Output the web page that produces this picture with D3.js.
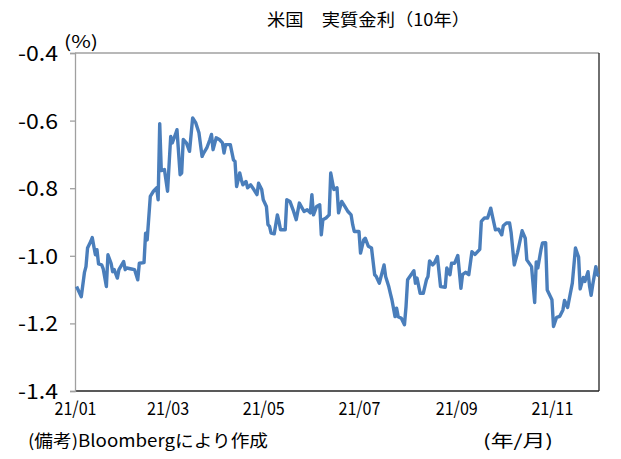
<!DOCTYPE html>
<html>
<head>
<meta charset="utf-8">
<script src="https://cdn.jsdelivr.net/npm/d3@7"></script>
<style>
  body { margin: 0; background: #fff; }
  text { font-family: "Noto Sans CJK JP", "Noto Sans", sans-serif; fill: #000; }
</style>
</head>
<body>
<script>
// chart data: 10y US real rate (%), 2021
const dates = [
  "01-02","01-05","01-07","01-08","01-09","01-11","01-12","01-13","01-14","01-15",
  "01-16","01-18","01-19","01-21","01-22","01-24","01-25","01-26","01-28","01-29",
  "02-01","02-02","02-03","02-06","02-08","02-10","02-11","02-14","02-15","02-16",
  "02-18","02-20","02-22","02-23","02-24","02-25","02-27","03-01","03-03","03-04",
  "03-06","03-07","03-09","03-10","03-11","03-13","03-15","03-17","03-19","03-21",
  "03-23","03-24","03-26","03-28","03-29","03-30","04-01","04-03","04-05","04-06",
  "04-07","04-10","04-12","04-13","04-14","04-16","04-17","04-18","04-20","04-21",
  "04-23","04-25","04-27","04-28","04-30","05-01","05-03","05-04","05-05","05-06",
  "05-08","05-10","05-11","05-12","05-15","05-16","05-18","05-20","05-22","05-24",
  "05-27","05-29","05-31","06-01","06-02","06-04","06-06","06-07","06-08","06-10",
  "06-12","06-13","06-15","06-17","06-18","06-20","06-22","06-24","06-26","06-27",
  "06-28","07-01","07-02","07-04","07-05","07-07","07-09","07-11","07-12","07-14",
  "07-17","07-18","07-20","07-21","07-22","07-24","07-25","07-26","07-28","07-30",
  "07-31","08-01","08-04","08-05","08-06","08-07","08-09","08-11","08-13","08-14",
  "08-15","08-17","08-18","08-20","08-22","08-25","08-26","08-28","08-29","08-31",
  "09-02","09-04","09-05","09-07","09-09","09-11","09-13","09-16","09-17","09-19",
  "09-21","09-23","09-24","09-26","09-28","09-30","10-01","10-03","10-05","10-06",
  "10-08","10-10","10-13","10-15","10-16","10-19","10-21","10-22","10-23","10-25",
  "10-26","10-28","10-29","11-01","11-02","11-04","11-06","11-08","11-09","11-11",
  "11-14","11-16","11-18","11-19","11-21","11-22","11-24","11-25","11-26","11-27",
  "11-29","11-30","12-01"
];
const values = [
  -1.091,-1.121,-1.050,-1.032,-0.977,-0.958,-0.946,-0.972,-0.997,-0.982,
  -1.024,-1.027,-1.039,-1.091,-0.997,-1.022,-1.047,-1.041,-1.066,-1.041,
  -1.017,-1.041,-1.036,-1.039,-1.041,-1.071,-1.022,-1.020,-0.933,-0.953,
  -0.824,-0.809,-0.799,-0.834,-0.609,-0.748,-0.745,-0.809,-0.647,-0.666,
  -0.641,-0.627,-0.760,-0.755,-0.656,-0.666,-0.691,-0.592,-0.607,-0.636,
  -0.706,-0.696,-0.681,-0.656,-0.641,-0.686,-0.651,-0.656,-0.666,-0.696,
  -0.671,-0.671,-0.716,-0.721,-0.795,-0.755,-0.775,-0.790,-0.780,-0.799,
  -0.790,-0.804,-0.819,-0.785,-0.804,-0.834,-0.854,-0.908,-0.913,-0.933,
  -0.935,-0.879,-0.898,-0.923,-0.923,-0.834,-0.839,-0.864,-0.893,-0.844,
  -0.869,-0.864,-0.873,-0.819,-0.879,-0.854,-0.849,-0.938,-0.893,-0.888,
  -0.879,-0.755,-0.804,-0.799,-0.873,-0.839,-0.854,-0.869,-0.879,-0.908,
  -0.928,-0.928,-0.992,-0.953,-0.948,-0.972,-0.977,-1.056,-1.061,-1.081,
  -1.027,-1.061,-1.091,-1.111,-1.130,-1.180,-1.155,-1.180,-1.185,-1.204,
  -1.150,-1.071,-1.051,-1.044,-1.081,-1.066,-1.111,-1.111,-1.071,-1.061,
  -1.015,-1.027,-1.022,-1.002,-1.091,-1.093,-1.036,-1.056,-1.022,-1.022,
  -0.999,-1.096,-1.056,-1.049,-1.056,-0.988,-0.996,-0.981,-0.898,-0.888,
  -0.888,-0.859,-0.881,-0.923,-0.921,-0.938,-0.911,-0.903,-0.903,-0.932,
  -1.027,-0.992,-0.926,-0.948,-1.012,-1.032,-1.138,-1.018,-1.036,-0.982,
  -0.962,-0.961,-1.101,-1.130,-1.209,-1.182,-1.179,-1.160,-1.132,-1.153,
  -1.081,-0.977,-1.004,-1.098,-1.064,-1.076,-1.047,-1.090,-1.117,-1.086,
  -1.032,-1.056,-1.059
];
const yTicks = [-1.4, -1.2, -1.0, -0.8, -0.6, -0.4];
const xTicks = ["2021-01-01","2021-03-01","2021-05-01","2021-07-01","2021-09-01","2021-11-01"];
const title = "米国　実質金利（10年）";

const W = 621, H = 459;
const margin = {top: 53, right: 22, bottom: 68, left: 75};
const parse = d3.timeParse("%Y-%m-%d");
const data = dates.map((d, i) => ({date: parse("2021-" + d), value: values[i]}));

const svg = d3.select("body").append("svg")
  .attr("width", W).attr("height", H);

const x = d3.scaleTime()
  .domain([parse("2021-01-01"), parse("2021-12-01")])
  .range([margin.left, W - margin.right]);
const y = d3.scaleLinear()
  .domain([-1.4, -0.4])
  .range([H - margin.bottom, margin.top]);

// plot frame: top/left grey, right/bottom dark
svg.append("line")
  .attr("x1", x.range()[0]).attr("x2", x.range()[1])
  .attr("y1", y(-0.4)).attr("y2", y(-0.4))
  .attr("stroke", "#a0a0a0").attr("stroke-width", 1.3);
svg.append("line")
  .attr("x1", x.range()[1]).attr("x2", x.range()[1])
  .attr("y1", y(-0.4)).attr("y2", y(-1.4))
  .attr("stroke", "#222").attr("stroke-width", 1.3);
svg.append("line")
  .attr("x1", x.range()[0]).attr("x2", x.range()[1])
  .attr("y1", y(-1.4)).attr("y2", y(-1.4))
  .attr("stroke", "#222").attr("stroke-width", 1.3);

// y axis
const yAxis = svg.append("g")
  .attr("transform", "translate(" + margin.left + ",0)")
  .call(d3.axisLeft(y).tickValues(yTicks).tickSize(5).tickPadding(12)
    .tickFormat(d => d.toFixed(1)));
yAxis.selectAll("path, line").attr("stroke", "#a0a0a0").attr("stroke-width", 1.3);
yAxis.selectAll("text")
  .style("font-size", "21px")
  .style("font-family", "'Noto Sans CJK JP', sans-serif")
  .attr("textLength", 40)
  .attr("lengthAdjust", "spacingAndGlyphs")
  .attr("dy", "0.36em");

// x axis labels
const xAxis = svg.append("g")
  .attr("transform", "translate(0," + (H - margin.bottom) + ")")
  .call(d3.axisBottom(x).tickValues(xTicks.map(parse)).tickSize(0).tickPadding(11)
    .tickFormat(d3.timeFormat("%y/%m")));
xAxis.select(".domain").remove();
xAxis.selectAll("text")
  .style("font-size", "18px")
  .style("font-family", "'Noto Sans CJK JP', sans-serif")
  .attr("textLength", 42)
  .attr("lengthAdjust", "spacingAndGlyphs");

// line
svg.append("path")
  .datum(data)
  .attr("fill", "none")
  .attr("stroke", "#4a7ebb")
  .attr("stroke-width", 3.4)
  .attr("stroke-linejoin", "round")
  .attr("d", d3.line()
    .x(d => x(d.date))
    .y(d => y(d.value)));

// texts
svg.append("text")
  .attr("x", 267).attr("y", 26)
  .style("font-size", "17px")
  .attr("textLength", 203)
  .attr("lengthAdjust", "spacingAndGlyphs")
  .text(title);
svg.append("text")
  .attr("x", 64).attr("y", 48)
  .style("font-size", "17px")
  .attr("textLength", 34)
  .attr("lengthAdjust", "spacingAndGlyphs")
  .text("(%)");
svg.append("text")
  .attr("x", 28).attr("y", 447)
  .style("font-size", "17px")
  .attr("textLength", 240)
  .attr("lengthAdjust", "spacingAndGlyphs")
  .text("(備考)Bloombergにより作成");
svg.append("text")
  .attr("x", 483).attr("y", 447)
  .style("font-size", "17px")
  .attr("textLength", 70)
  .attr("lengthAdjust", "spacingAndGlyphs")
  .text("(年/月)");
</script>
</body>
</html>
